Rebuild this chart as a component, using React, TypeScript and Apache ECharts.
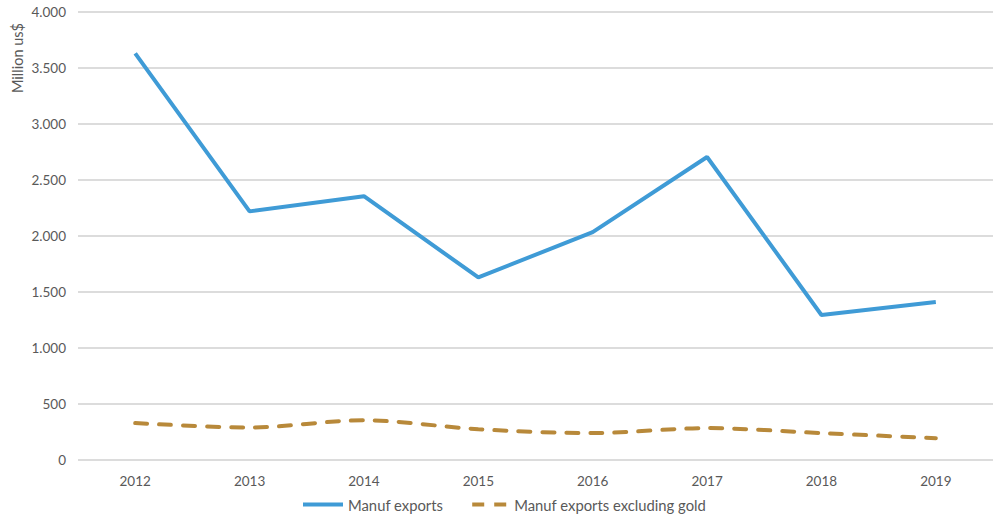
import React, { useEffect, useRef } from "react";
import * as echarts from "echarts";

const years = ["2012", "2013", "2014", "2015", "2016", "2017", "2018", "2019"];
const manufExports = [3630, 2220, 2355, 1630, 2035, 2705, 1295, 1410];
const manufExGold = [330, 290, 355, 275, 240, 285, 240, 195];

const FONT = "Lato, 'Open Sans', sans-serif";

export default function App() {
  const ref = useRef<HTMLDivElement>(null);
  useEffect(() => {
    if (!ref.current) return;
    const chart = echarts.init(ref.current, null, { renderer: "svg" });
    chart.setOption({
      animation: false,
      textStyle: { fontFamily: FONT },
      grid: { left: 78, right: 0, top: 12, bottom: 59, containLabel: false },
      legend: {
        bottom: 2,
        left: 298,
        itemWidth: 40,
        itemHeight: 4,
        itemGap: 29,
        textStyle: { fontFamily: FONT, fontSize: 14.8, color: "#595959" },
        data: [
          { name: "Manuf exports", icon: "path://M0,0L40,0L40,4L0,4Z" },
          { name: "Manuf exports excluding gold", icon: "path://M0,0L12,0L12,4L0,4ZM22,0L34,0L34,4L22,4Z" },
        ],
      },
      xAxis: {
        type: "category",
        data: years,
        boundaryGap: true,
        axisLine: { show: false },
        axisTick: { show: false },
        axisLabel: { color: "#595959", fontSize: 13.5, margin: 14, fontFamily: FONT },
      },
      yAxis: {
        type: "value",
        min: 0,
        max: 4000,
        interval: 500,
        axisLine: { show: false },
        axisTick: { show: false },
        splitLine: { lineStyle: { color: "#d0d0d0", width: 1.5 } },
        axisLabel: {
          color: "#595959",
          fontSize: 13.5,
          margin: 12,
          fontFamily: FONT,
          formatter: (v: number) => (v >= 1000 ? `${Math.floor(v / 1000)}.${String(v % 1000).padStart(3, "0")}` : String(v)),
        },
      },
      graphic: [
        {
          type: "text",
          x: 10,
          y: 93,
          rotation: Math.PI / 2,
          style: { text: "Million us$", fill: "#595959", fontSize: 14.5, fontFamily: FONT },
        },
      ],
      series: [
        {
          name: "Manuf exports",
          type: "line",
          data: manufExports,
          symbol: "none",
          color: "#3f9bd6",
          lineStyle: { width: 4, color: "#3f9bd6" },
        },
        {
          name: "Manuf exports excluding gold",
          type: "line",
          data: manufExGold,
          symbol: "none",
          smooth: 0.3,
          color: "#b8893a",
          lineStyle: { width: 4, color: "#b8893a", type: [12, 12], cap: "round" },
        },
      ],
    });
    return () => chart.dispose();
  }, []);
  return <div ref={ref} style={{ width: 993, height: 519, position: "absolute", left: 0, top: 0 }} />;
}
